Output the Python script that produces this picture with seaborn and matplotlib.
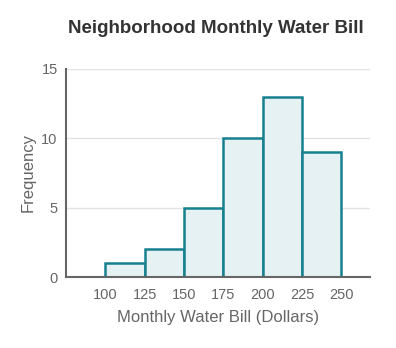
import matplotlib
matplotlib.use("Agg")
import matplotlib.pyplot as plt
import seaborn as sns
import numpy as np

bin_edges = [100, 125, 150, 175, 200, 225, 250]
counts = [1, 2, 5, 10, 13, 9]
x_ticks = [100, 125, 150, 175, 200, 225, 250]
y_ticks = [0, 5, 10, 15]

sns.set_style("white")
plt.rcParams['font.family'] = ['Liberation Sans', 'DejaVu Sans']

fig = plt.figure(figsize=(3.96, 3.48), dpi=100)
ax = fig.add_axes([0.1667, 0.204, 0.767, 0.598])

centers = [(bin_edges[i] + bin_edges[i + 1]) / 2 for i in range(len(counts))]
sns.histplot(x=centers, weights=counts, bins=bin_edges, ax=ax,
             color="#e6f1f3", edgecolor="#17808f", linewidth=1.8, alpha=1)

ax.set_xlim(75, 268)
ax.set_ylim(0, 15)
ax.set_xticks(x_ticks)
ax.set_yticks(y_ticks)
ax.yaxis.grid(True, color="#e3e3e3", linewidth=1)
ax.set_axisbelow(True)
for s in ["top", "right"]:
    ax.spines[s].set_visible(False)
for s in ["left", "bottom"]:
    ax.spines[s].set_color("#666666")
    ax.spines[s].set_linewidth(1.5)
ax.tick_params(axis="x", length=0, labelsize=10.5, labelcolor="#666666", pad=8)
ax.tick_params(axis="y", length=0, labelsize=10.5, labelcolor="#666666", pad=6)
ax.set_xlabel("Monthly Water Bill (Dollars)", fontsize=12, color="#666666", labelpad=6)
ax.set_ylabel("Frequency", fontsize=12, color="#666666", labelpad=4)
fig.text(0.545, 0.918, "Neighborhood Monthly Water Bill", ha="center", va="center",
         fontsize=13.5, fontweight="bold", color="#333333")

fig.savefig("out.png", dpi=100)
